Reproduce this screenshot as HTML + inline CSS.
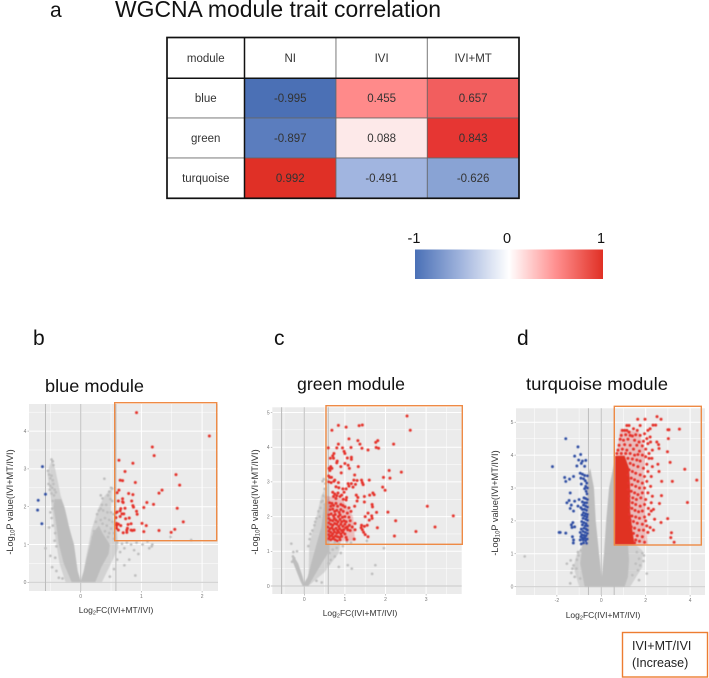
<!DOCTYPE html>
<html lang="en">
<head>
<meta charset="utf-8">
<title>WGCNA module trait correlation</title>
<style>
html,body{margin:0;padding:0;background:#fff;width:709px;height:678px;overflow:hidden}
svg{display:block;font-family:"Liberation Sans",sans-serif}
.cell-text{font-size:11.5px;fill:#333;text-anchor:middle}
.tick{font-size:5px;fill:#777;text-anchor:middle}
.axt{font-size:8.5px;fill:#333;text-anchor:middle}
.ayt{font-size:9.2px;fill:#333;text-anchor:middle}
.mod{font-size:17.5px;fill:#111}
.pan{font-size:21px;fill:#111}
</style>
</head>
<body>
<svg id="fig" width="709" height="678" viewBox="0 0 709 678" xmlns="http://www.w3.org/2000/svg">
<defs>
<linearGradient id="cbar" x1="0" x2="1" y1="0" y2="0">
<stop offset="0" stop-color="#4a70b6"/>
<stop offset="0.25" stop-color="#a3b6de"/>
<stop offset="0.5" stop-color="#ffffff"/>
<stop offset="0.75" stop-color="#ff8f8f"/>
<stop offset="1" stop-color="#e03025"/>
</linearGradient>
<filter id="soft" x="-5%" y="-5%" width="110%" height="110%"><feGaussianBlur stdDeviation="0.4"/></filter>
</defs>
<text class="pan" x="50" y="17">a</text>
<text x="115" y="17" font-size="23.5" fill="#111" textLength="326" lengthAdjust="spacingAndGlyphs">WGCNA module trait correlation</text>
<g id="table"></g>
<g>
<rect x="415" y="249.5" width="188" height="29.5" fill="url(#cbar)"/>
<text x="414" y="243" font-size="14.5" fill="#111" text-anchor="middle">-1</text>
<text x="507" y="243" font-size="14.5" fill="#111" text-anchor="middle">0</text>
<text x="601" y="243" font-size="14.5" fill="#111" text-anchor="middle">1</text>
</g>
<text class="pan" x="33" y="345">b</text>
<text class="pan" x="274" y="345">c</text>
<text class="pan" x="517" y="345">d</text>
<text class="mod" x="45" y="392" textLength="99" lengthAdjust="spacingAndGlyphs">blue module</text>
<text class="mod" x="297" y="390" textLength="108" lengthAdjust="spacingAndGlyphs">green module</text>
<text class="mod" x="526" y="390" textLength="142" lengthAdjust="spacingAndGlyphs">turquoise module</text>
<g id="plots"></g>
<g>
<rect x="622.5" y="632.5" width="85" height="44.5" fill="#fff" stroke="#ed7d31" stroke-width="1.4"/>
<text x="632" y="650" font-size="12.5" fill="#222">IVI+MT/IVI</text>
<text x="632" y="667" font-size="12.5" fill="#222">(Increase)</text>
</g>
</svg>
<script>
// ---------- Table data ----------
const tableModules = ["blue", "green", "turquoise"];
const tableTraits = ["NI", "IVI", "IVI+MT"];
const tableValues = [
  [-0.995, 0.455, 0.657],
  [-0.897, 0.088, 0.843],
  [0.992, -0.491, -0.626]
];

// ---------- Panel b (blue module) ----------
const bXTicks = [0, 1, 2];
const bYTicks = [0, 1, 2, 3, 4];
const bRedPoints = [[.92,4.49],[2.12,3.87],[1.18,3.58],[1.21,3.35],[.63,3.23],[.86,3.15],[.73,2.93],[1.57,2.85],[1.63,2.57],[.65,2.70],[.69,2.69],[.90,2.64],[1.34,2.44],[1.29,2.36],[.63,2.44],[.60,2.37],[.86,2.32],[.79,2.35],[.69,2.21],[.62,2.15],[.69,2.13],[.84,2.15],[.70,2.11],[1.09,2.11],[1.20,2.06],[.86,2.03],[.87,1.99],[1.04,1.98],[1.59,1.96],[.73,1.96],[.66,1.95],[.92,1.88],[.93,1.80],[.65,1.89],[.60,1.86],[.58,1.84],[.68,1.81],[.71,1.81],[.65,1.74],[.58,1.71],[.74,1.68],[.80,1.70],[1.69,1.60],[.59,1.56],[.58,1.53],[.62,1.54],[.78,1.53],[.83,1.55],[1.01,1.56],[1.08,1.50],[.59,1.50],[.66,1.50],[.62,1.38],[.59,1.43],[.77,1.43],[.76,1.38],[.83,1.38],[.85,1.37],[.88,1.38],[.70,1.31],[.76,1.32],[1.04,1.34],[1.29,1.37],[1.49,1.32],[1.55,1.40]];
const bBluePoints = [[-.63,3.06],[-.58,2.33],[-.70,2.17],[-.71,1.91],[-.64,1.55]];
const bGrayPoints = [[-.48,3.25],[-.46,3.2],[-.45,3.1],[-.54,2.95],[-.52,2.85],[-.5,2.75],[-.48,2.82],[-.46,2.7],[-.53,2.6],[-.5,2.55],[-.47,2.5],[-.45,2.6],[-.43,2.45],[-.51,2.45],[-.48,2.35],[-.44,2.3],[-.41,2.38],[-.46,2.15],[-.47,1.95],[-.5,1.85],[-.48,1.7],[-.46,1.5],[-.42,1.3],[-.52,1.45],[-.58,.9],[-.5,.7],[-.47,.4],[-.42,.65],[-.4,.3],[-.4,.95],[-.36,.12],[-.3,.1],[-.43,1.1],[.39,2.74],[.5,2.5],[.52,2.48],[.47,2.4],[.45,2.3],[.33,2.3],[.36,2.22],[.49,2.2],[.52,2.15],[.42,2.05],[.35,2.05],[.3,1.9],[.33,1.95],[.37,1.9],[.27,1.8],[.44,1.85],[.5,1.85],[.54,1.8],[.4,1.7],[.47,1.65],[.52,1.6],[.33,1.65],[.25,1.6],[.36,1.55],[.43,1.5],[.5,1.42],[.55,1.3],[.47,1.3],[.4,1.35],[.3,1.4],[.22,1.35],[.2,1.2],[.45,1.2],[.55,1.15],[.6,1.05],[.68,1.02],[.76,1.05],[.83,1.0],[.92,1.05],[1.02,1.0],[1.1,1.08],[1.17,.95],[1.13,.9],[1.18,1.0],[.9,.18],[.8,.6],[.72,.45],[.65,.8],[.6,.6],[.55,.35],[.48,.15],[1.48,1.2],[1.82,1.12],[.72,.9],[.88,.85],[.95,.75]];
const bGrayArea = [[-.15,0],[.24,0],[.34,.4],[.46,.75],[.48,1.0],[.36,1.3],[.3,1.5],[.2,1.3],[.13,.85],[.05,.3],[0,.04],[-.05,.3],[-.11,1.0],[-.2,1.5],[-.27,2.0],[-.32,2.2],[-.43,2.2],[-.45,2.0],[-.4,1.5],[-.36,1.0],[-.28,.5],[-.2,.2]];
const bHaloRight = [[.02,0],[.35,0],[.5,.5],[.62,.9],[.6,1.3],[.5,1.9],[.52,2.5],[.4,2.3],[.3,2.0],[.18,1.4],[.08,.6]];
const bHaloLeft = [[-.48,3.25],[-.55,2.9],[-.5,2.3],[-.47,1.9],[-.42,1.2],[-.35,.5],[-.25,0],[-.02,0],[-.08,.6],[-.15,1.2],[-.25,1.9],[-.33,2.3],[-.42,3.0]];

// ---------- Panel c (green module) ----------
const cXTicks = [0, 1, 2, 3];
const cYTicks = [0, 1, 2, 3, 4, 5];
const cRedPoints = [[.68,4.49],[.84,4.63],[1.03,4.58],[1.35,4.62],[1.43,4.64],[2.53,4.9],[2.61,4.49],[1.10,4.24],[1.32,4.19],[1.37,4.09],[1.76,4.14],[1.81,4.19],[2.2,4.09],[.84,4.09],[.59,3.98],[.8,3.98],[.94,3.98],[1.15,3.99],[1.42,3.97],[1.57,3.92],[1.77,3.99],[1.83,3.97],[.98,3.88],[1.0,3.82],[.73,3.82],[.7,3.75],[.64,3.68],[.72,3.68],[1.06,3.69],[1.16,3.71],[1.16,3.65],[.81,3.6],[.8,3.55],[1.0,3.53],[1.08,3.48],[1.11,3.39],[1.33,3.44],[.9,3.44],[.65,3.44],[.61,3.39],[.68,3.39],[.63,3.33],[.91,3.26],[2.09,3.33],[2.39,3.28],[1.24,3.2],[1.95,3.13],[2.11,3.11],[.6,3.17],[.63,3.13],[.67,3.13],[.73,3.02],[.75,3.05],[.6,3.0],[.66,2.98],[.84,2.98],[1.22,3.05],[1.3,3.04],[1.41,3.05],[1.43,2.98],[1.6,3.05],[1.08,2.95],[1.16,2.95],[1.26,2.93],[1.45,2.92],[.78,2.86],[.85,2.83],[.95,2.8],[1.03,2.8],[1.1,2.88],[1.2,2.85],[1.93,2.85],[1.99,2.76],[.7,2.7],[.75,2.65],[.8,2.6],[.88,2.58],[.92,2.62],[.98,2.7],[1.04,2.55],[1.28,2.62],[1.32,2.55],[1.48,2.58],[1.61,2.62],[1.69,2.68],[1.72,2.63],[.72,2.58],[.78,2.52],[.83,2.68],[.96,2.5],[1.03,2.48],[1.3,2.45],[1.48,2.42],[.62,2.4],[.68,2.38],[.65,2.3],[.72,2.32],[.78,2.38],[.82,2.3],[.9,2.35],[.95,2.32],[1.0,2.28],[1.1,2.25],[1.24,2.3],[1.67,2.35],[1.68,2.28],[3.03,2.3],[.63,2.2],[.7,2.22],[.75,2.15],[.8,2.18],[.86,2.12],[.9,2.2],[.96,2.15],[1.06,2.1],[1.15,2.15],[1.57,2.1],[1.78,2.12],[2.06,2.13],[.6,2.05],[.66,2.08],[.72,2.02],[.76,2.06],[.84,2.0],[.88,2.05],[.94,1.98],[1.0,2.0],[1.1,1.98],[1.5,2.0],[1.66,2.02],[1.67,1.95],[3.67,2.02],[.6,1.95],[.64,1.9],[.7,1.88],[.74,1.95],[.78,1.9],[.83,1.85],[.88,1.92],[.92,1.85],[.98,1.88],[1.03,1.85],[1.13,1.88],[1.25,1.8],[1.6,1.9],[2.25,1.88],[.6,1.82],[.65,1.78],[.7,1.75],[.75,1.8],[.8,1.78],[.85,1.72],[.9,1.78],[.95,1.72],[1.0,1.78],[1.06,1.7],[1.11,1.75],[1.18,1.7],[1.41,1.75],[1.48,1.72],[1.55,1.75],[3.22,1.7],[.58,1.7],[.63,1.65],[.68,1.68],[.72,1.62],[.78,1.66],[.82,1.6],[.87,1.65],[.92,1.6],[.97,1.62],[1.02,1.68],[1.07,1.62],[1.13,1.6],[1.4,1.68],[1.43,1.62],[1.8,1.68],[.6,1.58],[.65,1.55],[.7,1.5],[.74,1.56],[.8,1.52],[.85,1.55],[.9,1.5],[.95,1.55],[1.0,1.5],[1.25,1.62],[1.46,1.55],[.6,1.48],[.62,1.42],[.67,1.45],[.72,1.4],[.77,1.44],[.82,1.42],[.87,1.4],[.92,1.43],[1.03,1.4],[1.5,1.48],[1.57,1.42],[2.22,1.44],[2.75,1.57],[.6,1.36],[.65,1.33],[.7,1.36],[.76,1.33],[.81,1.3],[.88,1.33],[1.05,1.33],[1.23,1.35]];
const cRedHalo = [[.55,1.3],[1.25,1.3],[1.2,2.0],[.95,2.5],[.55,2.6]];
const cGrayPoints = [[.45,3.02],[.48,3.08],[.52,2.95],[.55,3.05],[.5,2.8],[.47,2.6],[.53,2.55],[.42,2.42],[.45,2.45],[.5,2.35],[.4,2.25],[.55,2.3],[.35,2.15],[.38,2.0],[.3,1.95],[.27,1.85],[.25,1.75],[.2,1.6],[.15,1.5],[.13,1.35],[.1,1.15],[.75,1.25],[.85,1.22],[1.05,1.28],[1.15,1.25],[.95,1.15],[.8,1.1],[.7,1.05],[.62,.95],[.9,.95],[.75,.85],[.65,.75],[.6,.65],[1.07,.6],[1.17,.5],[1.75,.6],[1.67,.35],[1.96,1.09],[1.54,1.3],[.85,.55],[-.32,1.22],[-.27,.98],[-.18,1.0],[-.28,.85],[-.25,.8],[-.22,.65],[-.3,.7],[.43,.1],[.3,.15]];
const cGrayArea = [[-.04,0],[.1,0],[.25,.3],[.45,.7],[.62,1.0],[.62,2.6],[.48,2.3],[.42,1.7],[.3,1.2],[.18,.7],[.08,.25],[0,.1],[-.05,.3],[-.15,.65],[-.28,.9],[-.3,.75],[-.2,.45],[-.1,.15]];
const cGrayHalo = [[.1,0],[.5,.4],[.85,.95],[.9,1.3],[.62,1.3],[.62,3.05],[.42,2.6],[.3,2.0],[.12,1.2]];

// ---------- Panel d (turquoise module) ----------
const dXTicks = [-2, 0, 2, 4];
const dYTicks = [0, 1, 2, 3, 4, 5];
const dRedPoints = [[2.51,5.17],[1.64,5.09],[1.97,5.09],[2.69,5.09],[2.33,4.91],[2.45,4.91],[3.52,4.79],[3.0,4.77],[3.05,4.77],[3.02,4.5],[2.98,4.1],[3.1,3.78],[3.76,3.57],[4.3,3.24],[3.2,3.2],[2.72,3.2],[3.88,2.56],[2.71,2.77],[2.62,2.53],[2.99,2.07],[2.69,1.95],[3.16,1.64],[3.13,1.49],[3.28,1.35],[1.15,4.9],[1.25,4.9],[1.75,4.9],[.95,4.75],[1.05,4.75],[1.15,4.75],[1.25,4.7],[1.45,4.8],[1.62,4.75],[2.1,4.75],[2.2,4.8],[.9,4.6],[1.1,4.62],[1.3,4.6],[1.4,4.58],[1.55,4.62],[1.75,4.6],[1.95,4.65],[2.2,4.55],[.85,4.48],[1.0,4.45],[1.2,4.48],[1.5,4.45],[1.7,4.4],[1.9,4.42],[2.05,4.5],[2.5,4.4],[2.58,4.32],[.8,4.3],[1.05,4.32],[1.3,4.3],[1.6,4.3],[1.85,4.28],[2.1,4.35],[2.22,4.4],[2.6,4.2],[.75,4.15],[.95,4.18],[1.15,4.15],[1.45,4.18],[1.72,4.12],[2.0,4.18],[2.3,4.15],[2.15,4.05],[.7,4.05],[.9,4.05],[1.1,4.05],[1.3,4.05],[1.5,4.0],[1.65,4.02],[1.85,4.0],[2.0,3.95],[2.15,3.9],[2.28,3.9],[1.2,3.9],[1.4,3.88],[1.6,3.85],[1.75,3.82],[2.05,3.72],[2.55,3.72],[1.3,3.75],[1.45,3.7],[1.65,3.65],[1.9,3.6],[2.3,3.65],[2.1,3.5],[2.6,3.5],[1.25,3.55],[1.4,3.5],[1.55,3.45],[1.75,3.4],[1.95,3.35],[2.25,3.35],[1.2,3.4],[1.35,3.3],[1.5,3.25],[1.65,3.2],[1.85,3.15],[2.05,3.2],[1.22,3.15],[1.38,3.1],[1.55,3.05],[1.72,3.0],[1.95,3.0],[2.22,3.05],[1.2,2.95],[1.35,2.9],[1.5,2.85],[1.65,2.8],[1.85,2.85],[2.1,2.85],[1.25,2.75],[1.42,2.7],[1.58,2.65],[1.78,2.7],[2.0,2.65],[2.3,2.75],[1.25,2.6],[1.4,2.55],[1.55,2.5],[1.75,2.45],[1.95,2.5],[2.25,2.55],[1.25,2.42],[1.38,2.38],[1.52,2.32],[1.68,2.28],[1.85,2.3],[2.12,2.38],[2.25,2.3],[2.35,2.35],[1.25,2.2],[1.38,2.15],[1.55,2.12],[1.72,2.08],[1.95,2.12],[2.15,2.2],[1.3,2.02],[1.45,1.98],[1.62,1.93],[1.85,1.9],[2.0,2.0],[2.4,2.05],[2.05,1.85],[1.35,1.82],[1.5,1.78],[1.7,1.72],[1.9,1.72],[2.1,1.65],[2.35,1.72],[2.2,1.8],[1.45,1.62],[1.62,1.55],[1.85,1.52],[1.55,1.42],[1.72,1.38],[1.95,1.35],[1.5,1.33]];
const dRedArea = [[.6,1.28],[1.5,1.28],[1.4,1.7],[1.3,2.3],[1.3,3.0],[1.25,3.6],[1.05,3.98],[.62,3.98]];
const dRedHalo = [[1.3,1.28],[2.1,1.28],[2.0,1.8],[2.0,2.6],[1.9,3.4],[2.0,4.0],[1.7,4.7],[.85,4.8],[.7,4.0],[1.1,3.9]];
const dBluePoints = [[-1.6,4.5],[-1.05,4.25],[-.93,4.02],[-1.2,3.97],[-1.02,3.85],[-.85,3.82],[-.7,3.84],[-2.2,3.65],[-.9,3.75],[-1.1,3.67],[-.75,3.66],[-.95,3.45],[-.85,3.42],[-.75,3.38],[-.62,3.37],[-1.65,3.32],[-1.43,3.27],[-1.25,3.35],[-.92,3.3],[-.8,3.28],[-1.6,3.2],[-.72,3.22],[-.65,3.15],[-.9,3.12],[-.7,3.05],[-.62,3.0],[-1.4,2.85],[-.75,2.98],[-.68,2.9],[-.64,2.82],[-.78,2.7],[-.7,2.68],[-.62,2.65],[-1.2,2.6],[-1.45,2.62],[-1.0,2.65],[-1.55,2.55],[-.85,2.58],[-.74,2.55],[-.65,2.55],[-1.35,2.48],[-1.05,2.45],[-.8,2.48],[-.7,2.45],[-.62,2.42],[-1.4,2.38],[-.92,2.4],[-.85,2.35],[-.75,2.35],[-.66,2.32],[-1.25,2.3],[-.8,2.25],[-.7,2.22],[-.62,2.2],[-.86,2.18],[-.75,2.15],[-.64,2.12],[-.82,2.08],[-.7,2.05],[-.62,2.02],[-1.28,1.95],[-.88,1.98],[-.78,1.95],[-.68,1.92],[-1.35,1.88],[-.85,1.88],[-.72,1.85],[-.62,1.85],[-1.2,1.82],[-.78,1.78],[-.68,1.75],[-1.32,1.8],[-.9,1.75],[-.62,1.72],[-.82,1.68],[-.72,1.65],[-1.85,1.65],[-1.9,1.65],[-1.6,1.63],[-.95,1.65],[-.62,1.62],[-.88,1.58],[-.78,1.56],[-.68,1.55],[-1.3,1.52],[-.92,1.52],[-.85,1.48],[-.74,1.48],[-.63,1.45],[-1.25,1.42],[-.82,1.42],[-.7,1.4],[-.95,1.42],[-1.26,1.33],[-.8,1.33],[-.66,1.32],[-.9,1.3]];
const dGrayPoints = [[-3.45,.92],[-1.55,.7],[-1.38,.8],[-1.25,.65],[-1.1,.82],[-1.35,.42],[-1.2,.3],[-1.4,.1],[-.95,.25],[-1.3,.55],[-1.12,.55],[-1.05,1.05],[-1.02,.95],[-.92,1.1],[1.6,1.05],[1.85,1.02],[1.92,.95],[1.7,.85],[1.9,.78],[1.75,.65],[1.55,.7],[2.05,.4],[1.7,.2],[1.65,.5],[1.4,.35]];
const dGrayArea = [[-.75,0],[1.05,0],[1.2,.3],[1.25,.8],[1.2,1.3],[.62,1.3],[.62,3.9],[.5,3.5],[.35,3.0],[.22,2.0],[.12,1.0],[.02,.3],[-.1,1.0],[-.25,2.0],[-.33,3.0],[-.5,3.6],[-.62,3.4],[-.62,1.3],[-.85,1.3],[-.95,.7]];
const dGrayHalo = [[-1.0,0],[1.3,0],[1.85,.6],[1.85,1.1],[1.5,1.3],[.6,1.3],[.6,.6],[.13,.6],[0,.3],[-.13,.6],[-.8,1.3],[-1.1,1.0],[-1.25,.6]];

// ---------- Drawing ----------
const NS = "http://www.w3.org/2000/svg";
const svgRoot = document.getElementById("plots");
const tableRoot = document.getElementById("table");

function svgEl(tag, parent, attrs) {
  const e = document.createElementNS(NS, tag);
  for (const k in attrs) e.setAttribute(k, attrs[k]);
  parent.appendChild(e);
  return e;
}

// diverging colour scale for the table cells
function cellColor(v) {
  const neg = [[0, 255, 255, 255], [0.49, 161, 181, 224], [0.63, 136, 162, 212], [1, 74, 111, 181]];
  const pos = [[0, 255, 255, 255], [0.09, 253, 232, 232], [0.455, 255, 138, 138], [0.66, 242, 93, 93], [0.84, 230, 54, 51], [1, 224, 48, 37]];
  const stops = v < 0 ? neg : pos;
  const a = Math.abs(v);
  for (let i = 1; i < stops.length; i++) {
    if (a <= stops[i][0]) {
      const s = stops[i - 1], e = stops[i];
      const t = (a - s[0]) / (e[0] - s[0]);
      return "rgb(" + [1, 2, 3].map(j => Math.round(s[j] + (e[j] - s[j]) * t)).join(",") + ")";
    }
  }
  return "rgb(224,48,37)";
}

// Table
const colEdges = [167, 244.5, 336, 427.3, 519];
const rowEdges = [37.5, 78.3, 118, 158, 198.3];
function addCell(col, row, txt, fill, name) {
  const x0 = colEdges[col], x1 = colEdges[col + 1], y0 = rowEdges[row], y1 = rowEdges[row + 1];
  const r = svgEl("rect", tableRoot, { x: x0, y: y0, width: x1 - x0, height: y1 - y0, fill: fill, stroke: "#666", "stroke-width": 0.8 });
  
  
  const t = svgEl("text", tableRoot, { x: (x0 + x1) / 2, y: (y0 + y1) / 2 + 4, class: "cell-text" });
  t.textContent = txt;
  
  
}
addCell(0, 0, "module", "#fff", "header-module");
tableTraits.forEach((tr, c) => addCell(c + 1, 0, tr, "#fff", "header-" + tr.toLowerCase().replace("+", "-")));
tableModules.forEach((m, r) => {
  addCell(0, r + 1, m, "#fff", "row-" + m);
  tableValues[r].forEach((v, c) => addCell(c + 1, r + 1, v.toFixed(3), cellColor(v), m + "-" + tableTraits[c].toLowerCase().replace("+", "-")));
});
svgEl("rect", tableRoot, { x: colEdges[0], y: rowEdges[0], width: colEdges[4] - colEdges[0], height: rowEdges[4] - rowEdges[0], fill: "none", stroke: "#111", "stroke-width": 1.7 });
svgEl("line", tableRoot, { x1: colEdges[1], x2: colEdges[1], y1: rowEdges[0], y2: rowEdges[4], stroke: "#111", "stroke-width": 1.5 });
svgEl("line", tableRoot, { x1: colEdges[0], x2: colEdges[4], y1: rowEdges[1], y2: rowEdges[1], stroke: "#111", "stroke-width": 1.5 });

const panels = [
  { id: "b", x: [29, 218], y: [404, 591], x0: 80.7, kx: 60.7, y0: 582.3, ky: 37.8,
    xTicks: bXTicks, yTicks: bYTicks, vlines: [-.58, .58],
    gray: bGrayPoints, grayArea: bGrayArea, grayHalos: [bHaloLeft, bHaloRight], red: bRedPoints, blue: bBluePoints, redArea: null, redHalo: null,
    box: [114.7, 402.7, 216.7, 540.7], xt: [116, 613], yt: [13, 502] },
  { id: "c", x: [272.3, 461.7], y: [407.3, 594], x0: 304.3, kx: 40.6, y0: 586, ky: 34.7,
    xTicks: cXTicks, yTicks: cYTicks, vlines: [-.56, .59],
    gray: cGrayPoints, grayArea: cGrayArea, grayHalos: [cGrayHalo], red: cRedPoints, blue: [], redArea: null, redHalo: cRedHalo,
    box: [326, 405.7, 462.3, 544.3], xt: [360, 616], yt: [258, 502] },
  { id: "d", x: [516, 705], y: [408.3, 595], x0: 601.3, kx: 22.2, y0: 586.7, ky: 32.9,
    xTicks: dXTicks, yTicks: dYTicks, vlines: [-.58, .58],
    gray: dGrayPoints, grayArea: dGrayArea, grayHalos: [dGrayHalo], red: dRedPoints, blue: dBluePoints, redArea: dRedArea, redHalo: dRedHalo,
    box: [614.3, 406.3, 701.3, 545], xt: [603, 618], yt: [498, 503] }
];

function drawPoints(parent, pts, sx, sy, color, r, label) {
  const g = svgEl("g", parent, { fill: color });
  
  
  pts.forEach(p => {
    const c = svgEl("circle", g, { cx: sx(p[0]), cy: sy(p[1]), r: r });
    
    
  });
}

panels.forEach(P => {
  const sx = v => P.x0 + v * P.kx;
  const sy = v => P.y0 - v * P.ky;
  const toPts = a => a.map(p => sx(p[0]) + "," + sy(p[1])).join(" ");
  const g = svgEl("g", svgRoot, {});
  
  

  const bg = svgEl("rect", g, { x: P.x[0], y: P.y[0], width: P.x[1] - P.x[0], height: P.y[1] - P.y[0], fill: "#ebebeb" });
  
  

  // grid
  const step = P.xTicks[1] - P.xTicks[0];
  for (let v = -8; v <= 8; v += step / 2) {
    const px = sx(v);
    if (px > P.x[0] && px < P.x[1]) svgEl("line", g, { x1: px, x2: px, y1: P.y[0], y2: P.y[1], stroke: "#fff", "stroke-width": (v / step) % 1 === 0 ? 1 : 0.5 });
  }
  for (let v = 0; v <= 6; v += 0.5) {
    const py = sy(v);
    if (py > P.y[0] && py < P.y[1]) svgEl("line", g, { x1: P.x[0], x2: P.x[1], y1: py, y2: py, stroke: "#fff", "stroke-width": v % 1 === 0 ? 1 : 0.5 });
  }
  // reference lines
  svgEl("line", g, { x1: sx(0), x2: sx(0), y1: P.y[0], y2: P.y[1], stroke: "#c8c8c8", "stroke-width": 1.2 });
  svgEl("line", g, { x1: P.x[0], x2: P.x[1], y1: sy(0), y2: sy(0), stroke: "#d0d0d0", "stroke-width": 1.2 });
  P.vlines.forEach(v => svgEl("line", g, { x1: sx(v), x2: sx(v), y1: P.y[0], y2: P.y[1], stroke: "#bcbcbc", "stroke-width": 1 }));

  // ticks
  P.xTicks.forEach(v => {
    svgEl("line", g, { x1: sx(v), x2: sx(v), y1: P.y[1], y2: P.y[1] + 1.5, stroke: "#888", "stroke-width": .5 });
    const t = svgEl("text", g, { x: sx(v), y: P.y[1] + 7, class: "tick" });
    t.textContent = v;
    
    
  });
  P.yTicks.forEach(v => {
    svgEl("line", g, { x1: P.x[0] - 1.5, x2: P.x[0], y1: sy(v), y2: sy(v), stroke: "#888", "stroke-width": .5 });
    const t = svgEl("text", g, { x: P.x[0] - 4, y: sy(v) + 1.8, class: "tick" });
    t.textContent = v;
    
    
  });

  // marks (softened slightly to match the blurred source figure)
  const marks = svgEl("g", g, { filter: "url(#soft)" });
  
  
  P.grayHalos.forEach(h => {
    const hp = svgEl("polygon", marks, { points: toPts(h), fill: "#bebebe", "fill-opacity": 0.55 });
    
    
  });
  const area = svgEl("polygon", marks, { points: toPts(P.grayArea), fill: "#bdbdbd" });
  
  
  drawPoints(marks, P.gray, sx, sy, "#bebebe", 1.35, "non-significant-points");
  drawPoints(marks, P.blue, sx, sy, "#2f4da3", 1.45, "decreased-points");
  if (P.redHalo) {
    const rh = svgEl("polygon", marks, { points: toPts(P.redHalo), fill: "#e5322a", "fill-opacity": 0.25 });
    
    
  }
  if (P.redArea) {
    const ra = svgEl("polygon", marks, { points: toPts(P.redArea), fill: "#e03222" });
    
    
  }
  drawPoints(marks, P.red, sx, sy, "#e5322a", 1.5, "increased-points");

  // orange selection box
  const b = svgEl("rect", g, { x: P.box[0], y: P.box[1], width: P.box[2] - P.box[0], height: P.box[3] - P.box[1], fill: "none", stroke: "#ee8a45", "stroke-width": 1.4 });
  
  

  // axis titles
  const xt = svgEl("text", g, { x: P.xt[0], y: P.xt[1], class: "axt" });
  
  
  xt.appendChild(document.createTextNode("Log"));
  const xs = svgEl("tspan", xt, { "font-size": "5.5", dy: "1.5" });
  xs.textContent = "2";
  const xr = svgEl("tspan", xt, { dy: "-1.5" });
  xr.textContent = "FC(IVI+MT/IVI)";
  const yt = svgEl("text", g, { x: 0, y: 0, class: "ayt", transform: "translate(" + P.yt[0] + "," + P.yt[1] + ") rotate(-90)" });
  
  
  yt.appendChild(document.createTextNode("-Log"));
  const ys = svgEl("tspan", yt, { "font-size": "6", dy: "1.5" });
  ys.textContent = "10";
  const yr = svgEl("tspan", yt, { dy: "-1.5" });
  yr.textContent = "P value(IVI+MT/IVI)";
});
</script>
</body>
</html>
